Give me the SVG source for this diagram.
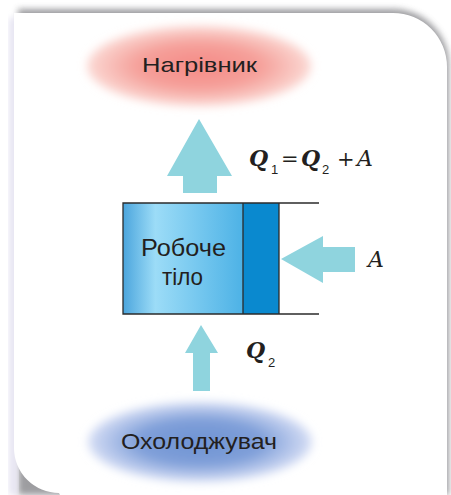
<svg xmlns="http://www.w3.org/2000/svg" width="451" height="495" viewBox="0 0 451 495">
<style>
.lbl{font-family:"Liberation Sans","Noto Sans",Arial,sans-serif;fill:#231f20;text-anchor:middle}
.math{font-family:"DejaVu Serif","Liberation Serif",serif;font-style:italic;fill:#231f20;font-size:22px}
.op{font-family:"DejaVu Serif","Liberation Serif",serif;fill:#231f20;font-size:21px}
.sub{font-family:"Liberation Sans",Arial,sans-serif;fill:#231f20;font-size:13px}
.arrow{fill:#8fd4de}
.edge{stroke:#2b2b2b;stroke-width:1.3;fill:none}
</style>
<defs>
<filter id="sh" x="-10%" y="-10%" width="120%" height="120%"><feGaussianBlur stdDeviation="3"/></filter>
<filter id="blur" x="-20%" y="-30%" width="140%" height="160%"><feGaussianBlur stdDeviation="5"/></filter>
<radialGradient id="hot" cx="0.5" cy="0.5" r="0.5">
<stop offset="0" stop-color="#f48a86"/>
<stop offset="0.55" stop-color="#f5a09a"/>
<stop offset="1" stop-color="#fbd9d4"/>
</radialGradient>
<radialGradient id="cold" cx="0.5" cy="0.5" r="0.5">
<stop offset="0" stop-color="#6f93d3"/>
<stop offset="0.55" stop-color="#7f9fd9"/>
<stop offset="1" stop-color="#d6def5"/>
</radialGradient>
<linearGradient id="body" x1="0" y1="0" x2="1" y2="0">
<stop offset="0" stop-color="#4ba5dd"/>
<stop offset="0.27" stop-color="#9cdcf7"/>
<stop offset="1" stop-color="#4db2e6"/>
</linearGradient>
</defs>

<g id="card">
<path d="M18,9 H393 A56,56 0 0 1 449,65 V495 H18 Z" fill="#8c8c90" opacity="0.85" filter="url(#sh)"/>
<path d="M9,18 V495 H18 V18 Z" fill="#e6e4f2" filter="url(#sh)"/>
<path d="M14,13 H393 A54,54 0 0 1 447,67 V495 H60 Q59,493 59,493 A45,45 0 0 1 14,448 Z" fill="#ffffff"/>
</g>

<g id="heater">
<ellipse cx="199" cy="66" rx="112" ry="40" fill="url(#hot)" filter="url(#blur)"/>
<text class="lbl" x="199.5" y="72" font-size="21" textLength="115" lengthAdjust="spacingAndGlyphs">Нагрівник</text>
</g>

<g id="working-body">
<rect x="123" y="203" width="120" height="111" fill="url(#body)"/>
<rect x="243" y="203" width="36" height="111" fill="#0a89cf"/>
<path class="edge" d="M319,203 H123 V314 H319 M243,203 V314 M279,203 V314"/>
<text class="lbl" x="183.5" y="256" font-size="23" textLength="85" lengthAdjust="spacingAndGlyphs">Робоче</text>
<text class="lbl" x="182.5" y="285" font-size="23" textLength="41" lengthAdjust="spacingAndGlyphs">тіло</text>
</g>

<g id="cooler">
<ellipse cx="200" cy="442" rx="112" ry="40" fill="url(#cold)" filter="url(#blur)"/>
<text class="lbl" x="199" y="449" font-size="22" textLength="156" lengthAdjust="spacingAndGlyphs">Охолоджувач</text>
</g>

<g id="connectors">
<path class="arrow" d="M199,119 L232,176 H217 V193 H183 V176 H167 Z"/>
<path class="arrow" d="M281,259 L323,236 V247 H355 V272 H323 V283 Z"/>
<path class="arrow" d="M201,325 L218,353 H210 V391 H193 V353 H185 Z"/>
</g>

<g id="labels">
<text class="math" x="249" y="166" font-weight="bold">Q</text>
<text class="sub" x="271" y="174">1</text>
<text class="op" x="281" y="166">=</text>
<text class="math" x="301" y="166" font-weight="bold">Q</text>
<text class="sub" x="322" y="174">2</text>
<text class="op" x="337" y="166">+</text>
<text class="math" x="357" y="166">A</text>
<text class="math" x="368" y="267">A</text>
<text class="math" x="246" y="358" font-weight="bold">Q</text>
<text class="sub" x="268" y="367">2</text>
</g>
</svg>
